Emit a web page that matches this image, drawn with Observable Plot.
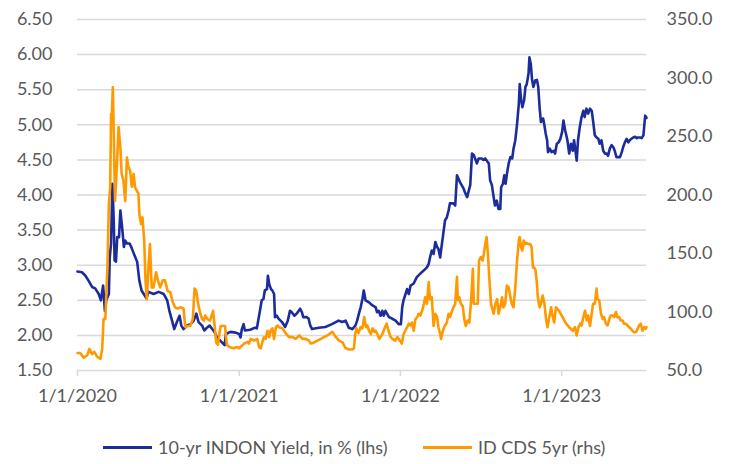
<!DOCTYPE html>
<html><head><meta charset="utf-8">
<script src="https://cdn.jsdelivr.net/npm/d3@7"></script>
<script src="https://cdn.jsdelivr.net/npm/@observablehq/plot@0.6"></script>
<style>
body{margin:0;background:#fff;font-family:Lato, sans-serif;}
#wrap{position:relative;width:729px;height:464px;overflow:hidden;}
#legend{position:absolute;left:0;top:420px;width:729px;height:44px;font-size:18px;color:#595959;}
.item{position:absolute;top:16px;display:flex;align-items:center;white-space:nowrap;}
.swatch{display:inline-block;width:49px;height:3px;margin-right:6px;}
</style></head><body>
<div id="wrap"><div id="chart"></div><div id="legend"></div></div>
<script>
const yieldDates = ["2020-01-01","2020-01-11","2020-01-19","2020-01-26","2020-02-03","2020-02-10","2020-02-18","2020-02-23","2020-02-28","2020-03-03","2020-03-06","2020-03-12","2020-03-14","2020-03-17","2020-03-20","2020-03-23","2020-03-25","2020-03-28","2020-03-31","2020-04-04","2020-04-07","2020-04-11","2020-04-15","2020-04-18","2020-04-22","2020-04-28","2020-05-03","2020-05-09","2020-05-15","2020-05-20","2020-05-25","2020-05-30","2020-06-05","2020-06-10","2020-06-21","2020-07-03","2020-07-14","2020-07-22","2020-07-27","2020-08-02","2020-08-07","2020-08-13","2020-08-19","2020-08-23","2020-08-28","2020-09-05","2020-09-13","2020-09-20","2020-09-26","2020-10-01","2020-10-09","2020-10-14","2020-10-20","2020-10-26","2020-11-01","2020-11-06","2020-11-12","2020-11-18","2020-11-23","2020-11-29","2020-12-02","2020-12-12","2020-12-24",
"2021-01-01","2021-01-04","2021-01-07","2021-01-11","2021-01-14","2021-01-26","2021-02-06","2021-02-10","2021-02-13","2021-02-17","2021-02-21","2021-02-25","2021-02-28","2021-03-05","2021-03-07","2021-03-10","2021-03-14","2021-03-17","2021-03-21","2021-03-23","2021-03-27","2021-03-31","2021-04-08","2021-04-15","2021-04-21","2021-04-26","2021-04-30","2021-05-06","2021-05-11","2021-05-19","2021-05-23","2021-05-26","2021-06-03","2021-06-07","2021-06-11","2021-06-15","2021-06-30","2021-07-15","2021-07-30","2021-08-14","2021-08-22","2021-08-30","2021-09-06","2021-09-14","2021-09-21","2021-09-25","2021-09-29","2021-10-03","2021-10-07","2021-10-10","2021-10-14","2021-10-22","2021-10-29","2021-11-06","2021-11-09","2021-11-13","2021-11-17","2021-11-21","2021-11-24","2021-11-28","2021-12-06","2021-12-13","2021-12-21","2021-12-28",
"2022-01-02","2022-01-05","2022-01-08","2022-01-16","2022-01-20","2022-01-24","2022-01-31","2022-02-07","2022-02-15","2022-02-22","2022-03-02","2022-03-06","2022-03-09","2022-03-13","2022-03-17","2022-03-21","2022-03-25","2022-03-28","2022-04-01","2022-04-04","2022-04-08","2022-04-12","2022-04-16","2022-04-20","2022-04-23","2022-05-01","2022-05-05","2022-05-09","2022-05-16","2022-05-24","2022-05-27","2022-06-01","2022-06-05","2022-06-08","2022-06-12","2022-06-16","2022-06-23","2022-06-27","2022-07-04","2022-07-08","2022-07-12","2022-07-20","2022-07-23","2022-07-27","2022-07-31","2022-08-03","2022-08-07","2022-08-11","2022-08-15","2022-08-17","2022-08-21","2022-08-24","2022-08-27","2022-08-30","2022-09-03","2022-09-07","2022-09-11","2022-09-14","2022-09-18","2022-09-22","2022-09-26","2022-09-28","2022-10-01","2022-10-04","2022-10-08","2022-10-11","2022-10-14","2022-10-18","2022-10-20","2022-10-23","2022-10-26","2022-10-29","2022-11-02","2022-11-06","2022-11-09","2022-11-12","2022-11-15","2022-11-20","2022-11-23","2022-11-26","2022-11-29","2022-12-01","2022-12-05","2022-12-09","2022-12-14","2022-12-17","2022-12-21","2022-12-25","2022-12-29",
"2023-01-02","2023-01-05","2023-01-09","2023-01-14","2023-01-18","2023-01-22","2023-01-26","2023-01-29","2023-02-02","2023-02-04","2023-02-07","2023-02-11","2023-02-15","2023-02-19","2023-02-22","2023-02-26","2023-03-02","2023-03-06","2023-03-10","2023-03-13","2023-03-17","2023-03-21","2023-03-25","2023-03-28","2023-04-01","2023-04-05","2023-04-09","2023-04-13","2023-04-16","2023-04-20","2023-04-24","2023-04-28","2023-05-01","2023-05-05","2023-05-09","2023-05-13","2023-05-17","2023-05-20","2023-05-24","2023-05-28","2023-06-01","2023-06-04","2023-06-08","2023-06-12","2023-06-16","2023-06-20","2023-06-23","2023-06-27","2023-07-01","2023-07-05","2023-07-07","2023-07-09","2023-07-12"];
const yieldValues = [2.91,2.90,2.85,2.78,2.69,2.67,2.59,2.50,2.71,2.35,2.50,2.59,3.11,3.31,4.16,3.64,3.07,3.05,3.40,3.40,3.78,3.54,3.26,3.35,3.31,3.31,3.24,3.14,3.05,2.78,2.64,2.59,2.53,2.62,2.59,2.62,2.59,2.50,2.35,2.21,2.09,2.19,2.28,2.14,2.09,2.14,2.16,2.21,2.31,2.19,2.14,2.07,2.11,2.14,2.09,2.05,1.97,1.93,1.90,1.86,2.02,2.05,2.04,
2.02,1.97,2.09,2.16,2.07,2.08,2.11,2.10,2.21,2.35,2.50,2.52,2.64,2.66,2.85,2.73,2.66,2.64,2.59,2.26,2.28,2.24,2.19,2.12,2.21,2.35,2.33,2.28,2.31,2.38,2.33,2.26,2.26,2.24,2.14,2.09,2.11,2.12,2.16,2.21,2.19,2.21,2.11,2.09,2.14,2.21,2.31,2.40,2.52,2.64,2.50,2.47,2.43,2.40,2.33,2.35,2.28,2.35,2.28,2.35,2.26,2.24,2.21,2.16,
2.16,2.40,2.50,2.66,2.59,2.71,2.74,2.83,2.88,2.92,2.97,3.02,3.11,3.21,3.16,3.33,3.26,3.23,3.11,3.26,3.45,3.64,3.68,3.78,3.88,3.88,3.85,4.28,4.18,4.09,4.04,3.97,4.07,4.14,4.59,4.57,4.45,4.52,4.52,4.50,4.52,4.45,4.21,4.14,3.97,3.85,3.92,3.80,3.80,4.11,4.16,4.28,4.16,4.30,4.45,4.54,4.52,4.66,4.78,5.01,5.30,5.58,5.37,5.25,5.35,5.54,5.58,5.73,5.96,5.87,5.64,5.54,5.63,5.64,5.54,5.25,5.04,5.09,4.99,4.87,4.78,4.61,4.66,4.61,4.63,4.59,4.73,4.75,4.80,
4.90,5.06,4.92,4.78,4.59,4.73,4.63,4.78,4.59,4.49,4.78,4.97,5.11,5.20,5.11,5.23,5.16,5.23,5.20,5.06,4.85,4.82,4.80,4.73,4.78,4.63,4.59,4.59,4.56,4.66,4.71,4.68,4.63,4.54,4.54,4.54,4.61,4.68,4.75,4.80,4.75,4.78,4.80,4.82,4.83,4.81,4.82,4.82,4.81,4.85,4.99,5.13,5.10];

const cdsDates = ["2020-01-01","2020-01-07","2020-01-15","2020-01-23","2020-01-28","2020-02-03","2020-02-08","2020-02-14","2020-02-22","2020-02-26","2020-02-29","2020-03-04","2020-03-06","2020-03-09","2020-03-12","2020-03-15","2020-03-17","2020-03-19","2020-03-21","2020-03-23","2020-03-26","2020-03-30","2020-04-03","2020-04-07","2020-04-10","2020-04-14","2020-04-18","2020-04-22","2020-04-25","2020-04-29","2020-05-03","2020-05-07","2020-05-10","2020-05-14","2020-05-18","2020-05-20","2020-05-24","2020-05-27","2020-05-31","2020-06-03","2020-06-06","2020-06-10","2020-06-13","2020-06-17","2020-06-21","2020-06-27","2020-07-01","2020-07-06","2020-07-12","2020-07-17","2020-07-23","2020-07-29","2020-08-04","2020-08-09","2020-08-14","2020-08-22","2020-08-28","2020-09-01","2020-09-06","2020-09-12","2020-09-18","2020-09-22","2020-09-26","2020-09-30","2020-10-05","2020-10-09","2020-10-13","2020-10-16","2020-10-21","2020-10-27","2020-11-03","2020-11-06","2020-11-10","2020-11-14","2020-11-17","2020-11-20","2020-11-25","2020-11-30","2020-12-04","2020-12-10","2020-12-19","2020-12-27",
"2021-01-01","2021-01-12","2021-01-20","2021-01-23","2021-01-27","2021-02-04","2021-02-11","2021-02-15","2021-02-19","2021-02-23","2021-02-26","2021-03-02","2021-03-06","2021-03-10","2021-03-13","2021-03-17","2021-03-21","2021-03-25","2021-03-29","2021-04-01","2021-04-09","2021-04-16","2021-04-24","2021-05-02","2021-05-09","2021-05-17","2021-05-24","2021-06-01","2021-06-08","2021-06-12","2021-06-20","2021-06-27","2021-07-05","2021-07-12","2021-07-20","2021-07-27","2021-07-31","2021-08-08","2021-08-15","2021-08-23","2021-08-30","2021-09-07","2021-09-14","2021-09-18","2021-09-20","2021-09-23","2021-09-28","2021-10-03","2021-10-07","2021-10-11","2021-10-15","2021-10-18","2021-10-22","2021-10-26","2021-10-30","2021-11-03","2021-11-06","2021-11-10","2021-11-14","2021-11-21","2021-11-27","2021-12-01","2021-12-05","2021-12-10","2021-12-14","2021-12-20","2021-12-25","2021-12-31",
"2022-01-04","2022-01-08","2022-01-12","2022-01-16","2022-01-20","2022-01-24","2022-01-27","2022-01-31","2022-02-04","2022-02-08","2022-02-11","2022-02-15","2022-02-19","2022-02-23","2022-02-26","2022-03-02","2022-03-06","2022-03-09","2022-03-13","2022-03-17","2022-03-21","2022-03-25","2022-03-28","2022-04-01","2022-04-03","2022-04-07","2022-04-10","2022-04-16","2022-04-20","2022-04-23","2022-04-27","2022-05-01","2022-05-05","2022-05-09","2022-05-11","2022-05-14","2022-05-18","2022-05-22","2022-05-26","2022-05-29","2022-06-02","2022-06-06","2022-06-10","2022-06-14","2022-06-16","2022-06-21","2022-06-25","2022-06-28","2022-07-02","2022-07-06","2022-07-09","2022-07-12","2022-07-15","2022-07-18","2022-07-21","2022-07-25","2022-07-27","2022-07-31","2022-08-04","2022-08-08","2022-08-11","2022-08-15","2022-08-19","2022-08-22","2022-08-26","2022-08-30","2022-09-03","2022-09-07","2022-09-10","2022-09-14","2022-09-18","2022-09-22","2022-09-26","2022-09-28","2022-10-01","2022-10-04","2022-10-07","2022-10-11","2022-10-14","2022-10-18","2022-10-22","2022-10-25","2022-10-28","2022-10-31","2022-11-03","2022-11-06","2022-11-08","2022-11-12","2022-11-15","2022-11-19","2022-11-23","2022-11-27","2022-11-30","2022-12-04","2022-12-08","2022-12-12","2022-12-15","2022-12-19","2022-12-26",
"2023-01-03","2023-01-11","2023-01-18","2023-01-26","2023-01-31","2023-02-04","2023-02-08","2023-02-12","2023-02-15","2023-02-19","2023-02-23","2023-02-27","2023-03-02","2023-03-06","2023-03-10","2023-03-13","2023-03-17","2023-03-21","2023-03-23","2023-03-27","2023-03-31","2023-04-04","2023-04-07","2023-04-11","2023-04-15","2023-04-19","2023-04-22","2023-04-26","2023-04-30","2023-05-04","2023-05-07","2023-05-11","2023-05-15","2023-05-19","2023-05-22","2023-05-26","2023-05-30","2023-06-03","2023-06-07","2023-06-10","2023-06-14","2023-06-18","2023-06-22","2023-06-25","2023-06-29","2023-07-03","2023-07-07","2023-07-10","2023-07-12"];
const cdsValues = [65,65,61,63,68.5,64,66,62,60,69,94,94,112.7,141,192.5,206.7,269,270,292,255,195,224,258,241,218,212,195,232,224,221,207,218,207,204,201,184,175,181,161,127,111,141,158,121,121,134,127,121,127,127,118,117,108,104,103,104,103,87,88,88,94,120,118,107,98.5,94,92.7,97,94,92.7,101,90,74,72,81,88,88,88,72,70,69,70,
69,73,74.5,73,77,75.6,77,70,69,75,78.5,77,84,78.5,84,86,77,87,88.5,87,86,82,78.5,78.5,77,80,77,77,75.5,73,74,75.5,77,78.5,80,82,83,78.5,75.5,74,69,68,68,69,79,86,82,87,86,95.6,87,88.5,84,81,86,83,84,81,77,81,87,90,84,78.5,77,75.5,78.5,75.5,
73,81,84,87,90,88.5,91,84,94,95.6,98.5,97,101,107,112.6,107,125.5,111,112.6,88,98.5,95.6,87,81,77,84,87,91,98.5,95.6,100,104,107,130,110,112.6,107,105,92.7,88,92.7,91,110,137,107,107,107,144,147,144,150,158,164,150,130,107,104,98.5,107,111,98.5,104,112.6,104,107,122.6,121,112.6,107,104,121,144,161,164,155.4,152.6,161,158,159,158,158,155.4,138,138,135.5,124,112.6,104,107,114,107,92.7,87,95.6,104,95.6,91,104,101,
95.6,90,87,84,87,80,87,90,88.5,95.6,101,92.7,97,88,98.5,107,107,120,111,110,98.5,94,95.6,90,88.5,94,97,97,95.6,100,95.6,95.6,92.7,92.7,90,90,88.5,87,85.6,84,82.7,82.7,85.6,88.5,90,84,87,85.6,87];

const leftTicks = [1.5,2.0,2.5,3.0,3.5,4.0,4.5,5.0,5.5,6.0,6.5];
const rightTicks = [50,100,150,200,250,300,350];
const xTicks = ["2020-01-01","2021-01-01","2022-01-01","2023-01-01"];
const xEnd = "2023-07-12";
const seriesNames = ["10-yr INDON Yield, in % (lhs)","ID CDS 5yr (rhs)"];
const seriesColors = ["#1c2c9c","#ff9900"];
const leftDomain = [1.5, 6.5];
const rightDomain = [50, 350];

const k = (leftDomain[1]-leftDomain[0])/(rightDomain[1]-rightDomain[0]);
const toLeft = v => leftDomain[0] + (v - rightDomain[0]) * k;
const fromLeft = v => rightDomain[0] + (v - leftDomain[0]) / k;
const parse = d3.utcParse("%Y-%m-%d");

const yieldData = yieldDates.map((d,i)=>({date:parse(d), value:yieldValues[i]}));
const cdsData = cdsDates.map((d,i)=>({date:parse(d), value:toLeft(cdsValues[i])}));

const chart = Plot.plot({
  width: 729, height: 420,
  marginLeft: 77, marginRight: 83, marginTop: 19, marginBottom: 50,
  style: {fontFamily: "Lato, sans-serif", fontSize: "18px", color: "#595959", background: "white"},
  x: {type: "utc", domain: [parse(xTicks[0]), parse(xEnd)]},
  y: {domain: leftDomain},
  marks: [
    Plot.gridY({ticks: leftTicks, stroke: "#d9d9d9", strokeOpacity: 1, strokeWidth: 1.5}),
    Plot.axisY({ticks: leftTicks, anchor: "left", tickSize: 0, tickPadding: 25, tickFormat: d => d.toFixed(2), label: null}),
    Plot.axisY({ticks: rightTicks.map(toLeft), anchor: "right", tickSize: 0, tickPadding: 20, tickFormat: d => fromLeft(d).toFixed(1), label: null}),
    Plot.axisX({ticks: xTicks.map(parse), tickSize: 6, tickPadding: 13, stroke: "#d9d9d9", strokeWidth: 1.5, tickFormat: d3.utcFormat("%-m/%-d/%Y"), label: null}),
    Plot.lineY(yieldData, {x: "date", y: "value", stroke: seriesColors[0], strokeWidth: 2.6}),
    Plot.lineY(cdsData, {x: "date", y: "value", stroke: seriesColors[1], strokeWidth: 2.6})
  ]
});
document.getElementById("chart").appendChild(chart);

const legend = document.getElementById("legend");
const legendLeft = [103, 423];
seriesNames.forEach((name, i) => {
  const item = document.createElement("div");
  item.className = "item";
  item.style.left = legendLeft[i] + "px";
  const sw = document.createElement("span");
  sw.className = "swatch";
  sw.style.background = seriesColors[i];
  const tx = document.createElement("span");
  tx.textContent = name;
  item.appendChild(sw); item.appendChild(tx);
  legend.appendChild(item);
});
</script>
</body></html>
